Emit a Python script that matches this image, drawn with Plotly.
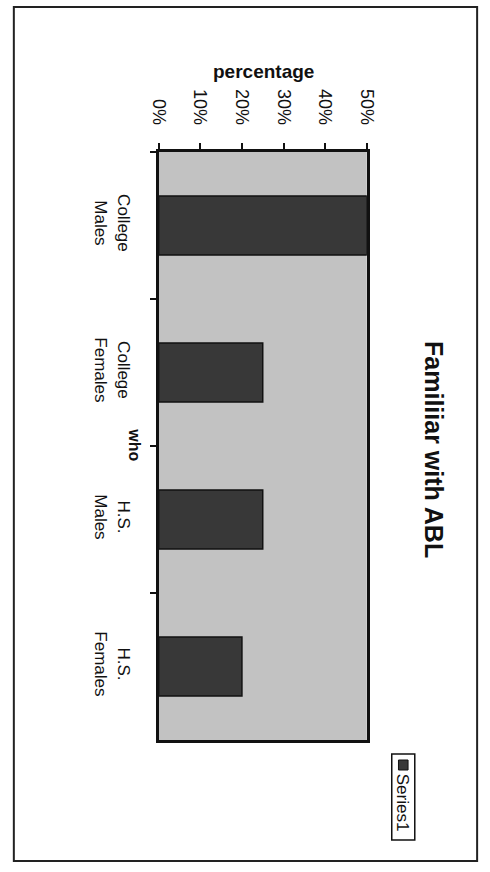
import plotly.graph_objects as go

categories = ["College<br>Males", "College<br>Females", "H.S.<br>Males", "H.S.<br>Females"]
values = [0.50, 0.25, 0.25, 0.20]
series_name = "Series1"
title_text = "Familiiar with ABL"
value_axis_title = "percentage"
category_axis_title = "who"

W, H = 490, 872
def px(x):
    return x / W
def py(y):
    return 1 - y / H

FONT = "Liberation Sans, Arial, sans-serif"

fig = go.Figure()
fig.add_trace(go.Bar(
    x=values, y=categories, orientation="h", name=series_name,
    marker=dict(color="#383838", line=dict(color="#111111", width=1.5)),
    width=0.4, showlegend=False,
))

fig.update_layout(
    width=W, height=H,
    margin=dict(l=0, r=0, t=0, b=0),
    paper_bgcolor="white",
    plot_bgcolor="#c2c2c2",
    font=dict(family=FONT, color="#111111"),
    xaxis=dict(
        domain=[px(155), px(372)],
        range=[0, 0.5], dtick=0.1, tickformat=".0%",
        side="top", tickangle=90,
        showgrid=False, zeroline=False,
        showline=True, linecolor="#111111", linewidth=2.5, mirror=True,
        ticks="outside", ticklen=6, tickcolor="#111111", tickwidth=1.5,
        tickfont=dict(size=18, family=FONT, color="#111111"),
        ticklabelstandoff=12,
    ),
    yaxis=dict(
        domain=[py(740), py(152)],
        autorange="reversed",
        tickangle=90,
        showgrid=False, zeroline=False,
        showline=True, linecolor="#111111", linewidth=2.5, mirror=True,
        ticks="outside", ticklen=6, tickcolor="#111111", tickwidth=1.5,
        tickson="boundaries",
        tickfont=dict(size=17, family=FONT, color="#111111"),
        ticklabelstandoff=18,
    ),
)

annotations = [
    dict(text="<b>" + title_text + "</b>", x=px(442), y=py(450), textangle=90,
         font=dict(size=25, family=FONT, color="#111111")),
    dict(text="<b>" + value_axis_title + "</b>", x=px(264), y=py(72), textangle=0,
         font=dict(size=19, family=FONT, color="#111111")),
    dict(text="<b>" + category_axis_title + "</b>", x=px(130), y=py(445), textangle=90,
         font=dict(size=16, family=FONT, color="#111111")),
    dict(text=series_name, x=px(410), y=py(803), textangle=90,
         font=dict(size=17, family=FONT, color="#111111")),
]
for a in annotations:
    a.update(xref="paper", yref="paper", showarrow=False, xanchor="center", yanchor="middle")
fig.update_layout(annotations=annotations)

shapes = [
    # outer frame
    dict(type="rect", x0=px(4), x1=px(487), y0=py(861), y1=py(7),
         line=dict(color="#222222", width=2)),
    # legend box
    dict(type="rect", x0=px(398), x1=px(422), y0=py(840), y1=py(754),
         line=dict(color="#111111", width=1.5)),
    # legend swatch
    dict(type="rect", x0=px(405), x1=px(415), y0=py(770), y1=py(760),
         fillcolor="#383838", line=dict(color="#111111", width=1)),
]
for s in shapes:
    s.update(xref="paper", yref="paper")
fig.update_layout(shapes=shapes)

fig.write_html("out.html")
